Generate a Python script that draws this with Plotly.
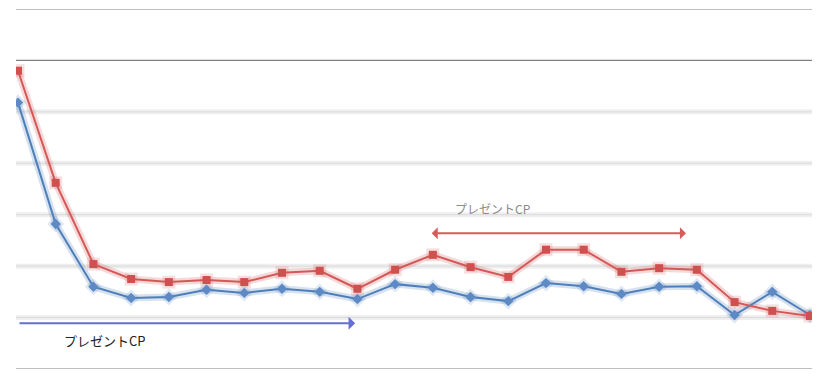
import plotly.graph_objects as go

x_idx = list(range(22))
red_vals = [5.80, 3.62, 2.04, 1.75, 1.69, 1.73, 1.69, 1.87, 1.91, 1.56, 1.93,
            2.22, 1.98, 1.79, 2.32, 2.32, 1.89, 1.96, 1.93, 1.30, 1.13, 1.03]
blue_vals = [5.18, 2.82, 1.60, 1.38, 1.40, 1.54, 1.48, 1.56, 1.50, 1.36, 1.65,
             1.58, 1.40, 1.32, 1.67, 1.61, 1.46, 1.60, 1.61, 1.05, 1.50, 1.05]
dark_grid = [0, 6, 7]
light_grid = [1, 2, 3, 4, 5]
label_text = "プレゼントCP"

fig = go.Figure()

# soft glow under lines
fig.add_trace(go.Scatter(x=x_idx, y=blue_vals, mode="lines+markers",
                         line=dict(color="rgba(74,122,184,0.22)", width=7),
                         marker=dict(symbol="diamond", size=13, color="rgba(74,122,184,0.18)"),
                         hoverinfo="skip", showlegend=False))
fig.add_trace(go.Scatter(x=x_idx, y=red_vals, mode="lines+markers",
                         line=dict(color="rgba(208,80,80,0.22)", width=7),
                         marker=dict(symbol="square", size=13, color="rgba(208,80,80,0.18)"),
                         hoverinfo="skip", showlegend=False))
fig.add_trace(go.Scatter(x=x_idx, y=blue_vals, mode="lines+markers",
                         line=dict(color="#4f7fba", width=2),
                         marker=dict(symbol="diamond", size=8, color="#5d8ac4"),
                         showlegend=False))
fig.add_trace(go.Scatter(x=x_idx, y=red_vals, mode="lines+markers",
                         line=dict(color="#d45858", width=2),
                         marker=dict(symbol="square", size=8, color="#d05050"),
                         showlegend=False))

shapes = []
for g in dark_grid:
    shapes.append(dict(type="line", xref="paper", yref="y", x0=0, x1=1, y0=g, y1=g,
                       line=dict(color="#808080", width=1.2), layer="below"))
for g in light_grid:
    shapes.append(dict(type="line", xref="paper", yref="y", x0=0, x1=1, y0=g, y1=g,
                       line=dict(color="#efefef", width=5), layer="below"))
    shapes.append(dict(type="line", xref="paper", yref="y", x0=0, x1=1, y0=g, y1=g,
                       line=dict(color="#dadada", width=1), layer="below"))

annotations = [
    dict(x=8.94, y=0.89, ax=0.0, ay=0.89, xref="x", yref="y", axref="x", ayref="y",
         showarrow=True, arrowhead=1, arrowsize=1, arrowwidth=2.2, arrowcolor="#6470d2", text=""),
    dict(x=17.71, y=2.64, ax=10.93, ay=2.64, xref="x", yref="y", axref="x", ayref="y",
         showarrow=True, arrowhead=1, startarrowhead=1, arrowside="end+start",
         arrowsize=1, arrowwidth=2, arrowcolor="#d45c5c", text=""),
    dict(x=2.31, y=0.56, xref="x", yref="y", showarrow=False, text=label_text,
         font=dict(family="Noto Sans CJK JP", size=13, color="#222222")),
    dict(x=12.57, y=3.13, xref="x", yref="y", showarrow=False, text=label_text,
         font=dict(family="Noto Sans CJK JP", size=12, color="#8a8a8a")),
]

fig.update_layout(
    width=818, height=376,
    margin=dict(l=8, r=14, t=1, b=15),
    paper_bgcolor="white", plot_bgcolor="white",
    xaxis=dict(range=[-0.053, 21.053], showgrid=False, zeroline=False,
               showticklabels=False, showline=False, fixedrange=True),
    yaxis=dict(range=[0, 7], showgrid=False, zeroline=False,
               showticklabels=False, showline=False, fixedrange=True),
    shapes=shapes,
    annotations=annotations,
)

fig.write_html("out.html")
